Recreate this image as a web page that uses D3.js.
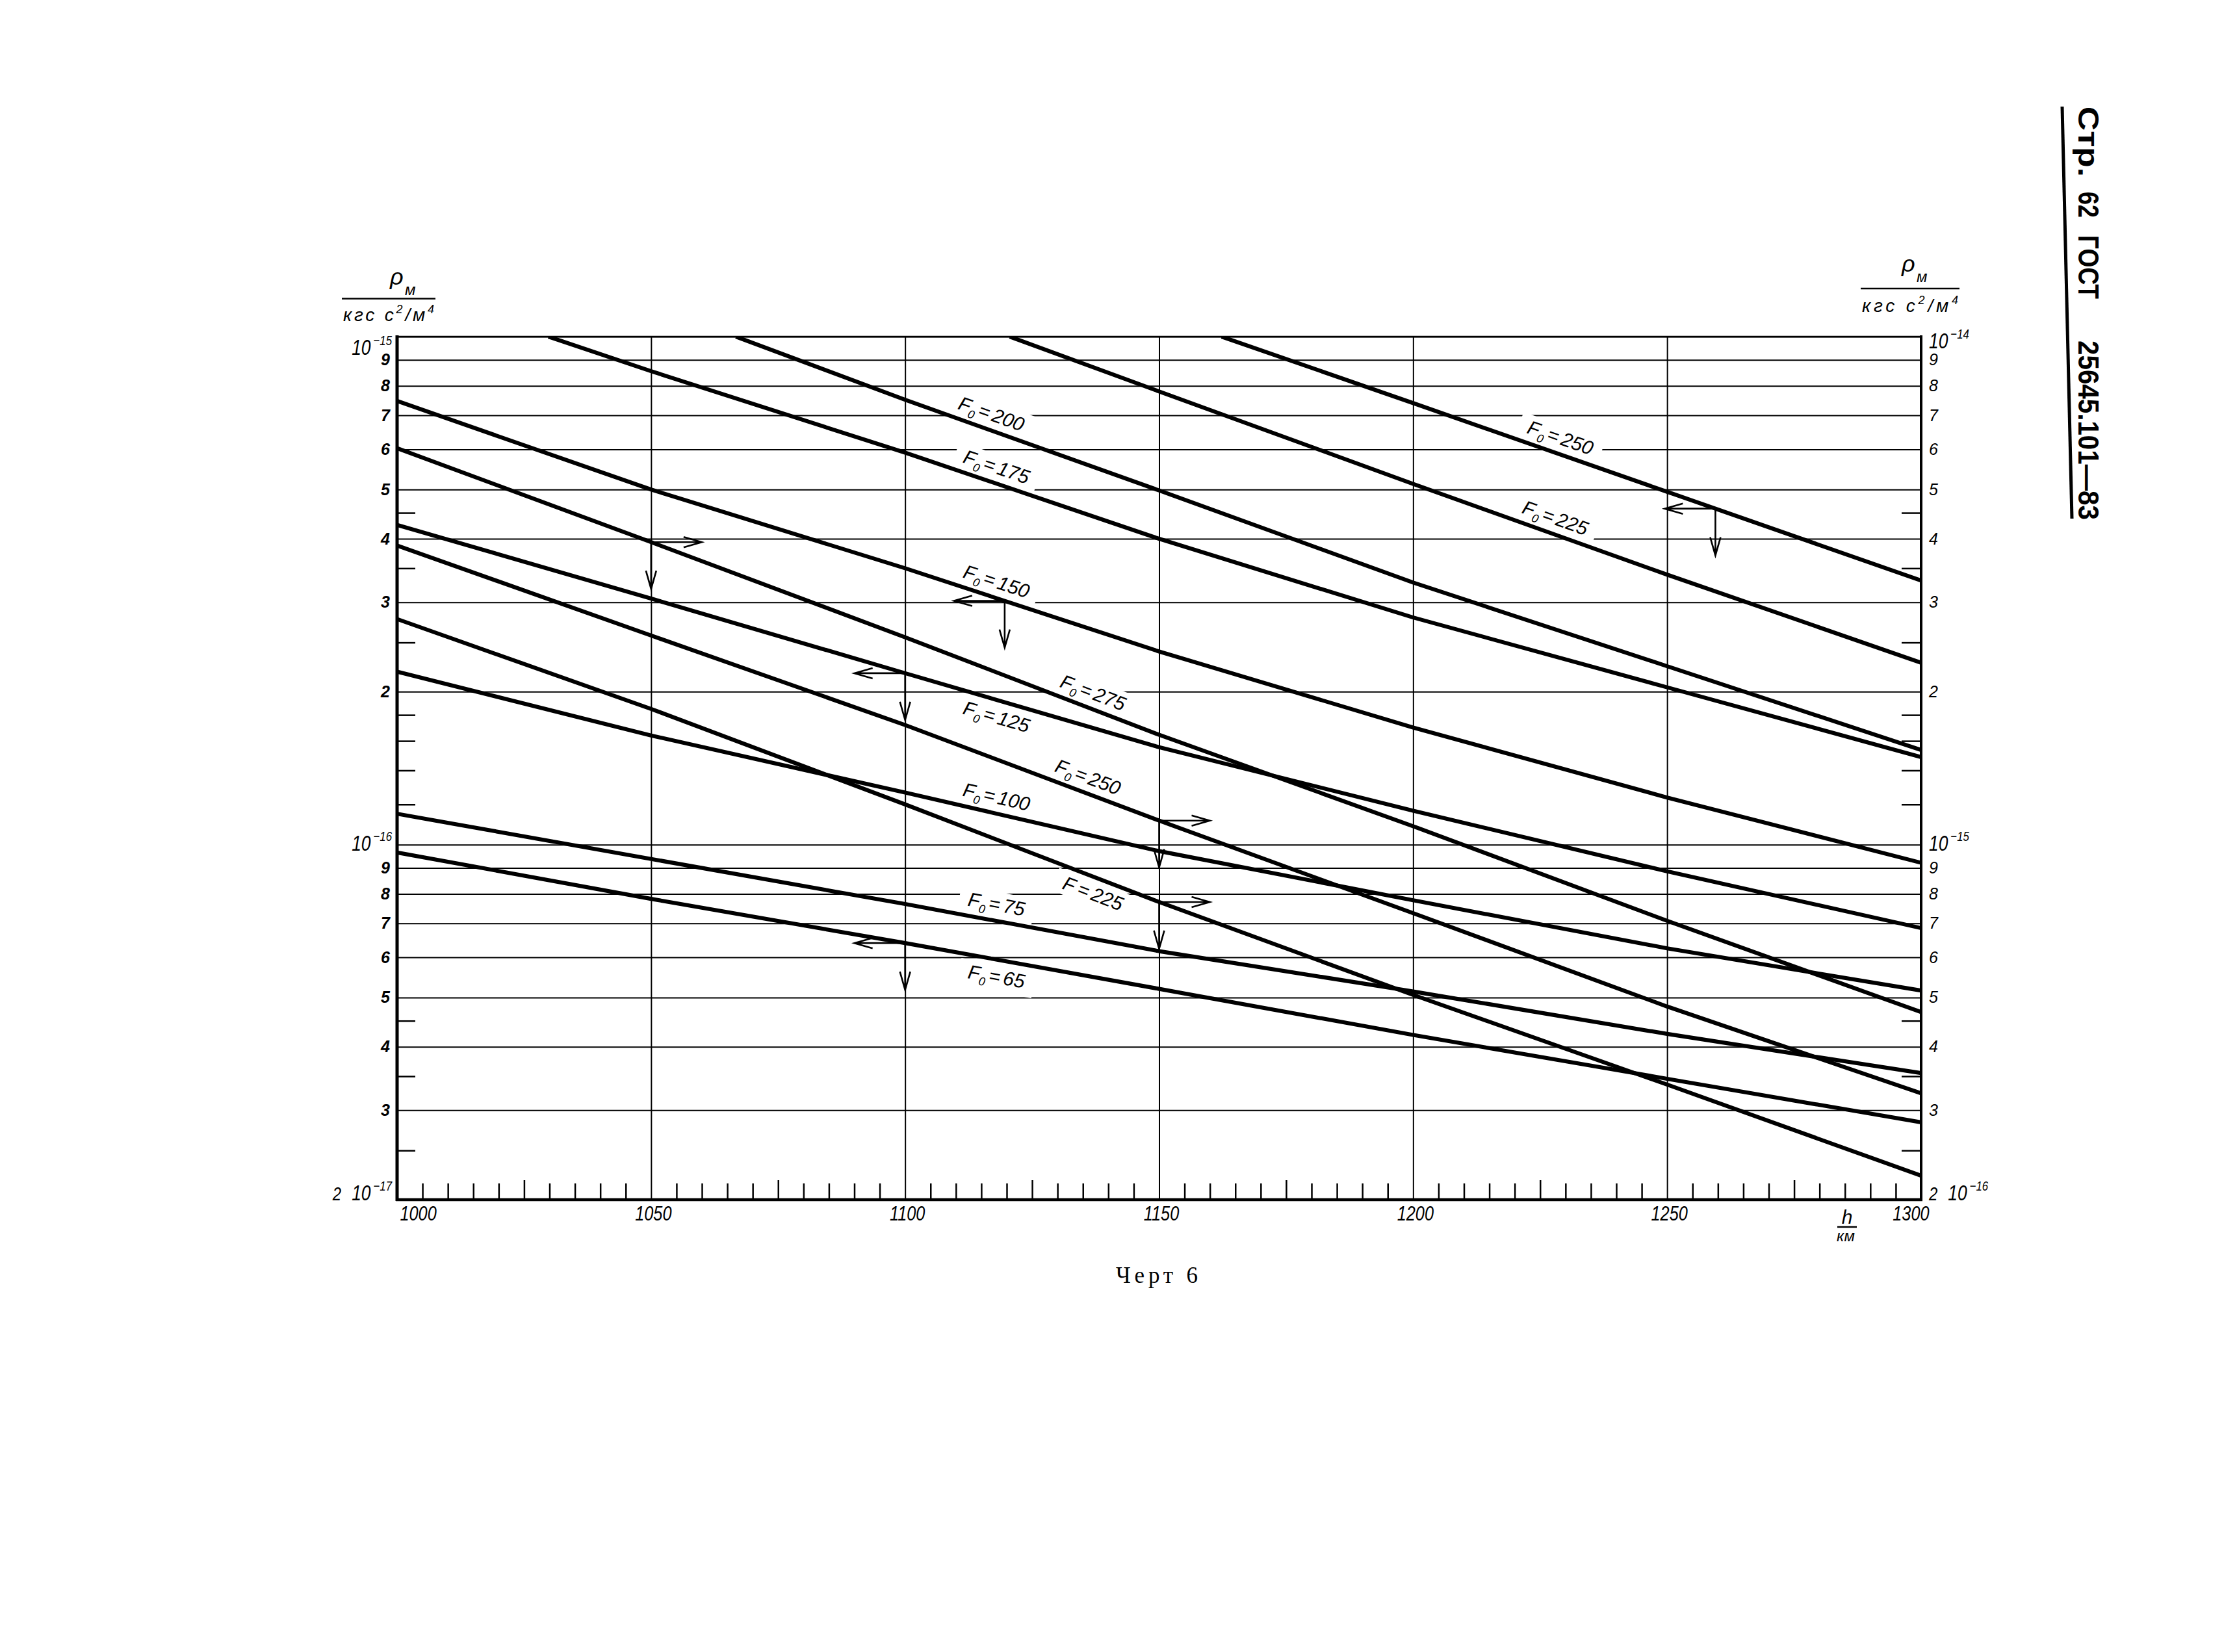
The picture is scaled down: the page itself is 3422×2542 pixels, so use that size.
<!DOCTYPE html>
<html><head><meta charset="utf-8">
<script src="https://cdn.jsdelivr.net/npm/d3@7"></script>
<style>
html,body{margin:0;padding:0;background:#fff;}
svg{display:block;}
svg text{fill:#000;}
</style></head><body>
<svg id="chart" width="3422" height="2542" font-family="Liberation Sans, Arial, sans-serif"></svg>
<script>
// ---------------- DATA ----------------
// altitude h, km  /  density rho_M, kgf s^2/m^4
// curves read on the LEFT axis (1e-17 ... 1e-15)
const rhoF250L = [[1162.3,1.0e-15],[1200,7.40e-16],[1250,4.95e-16],[1300,3.31e-16]];
const rhoF225L = [[1120.6,1.0e-15],[1150,7.80e-16],[1200,5.13e-16],[1250,3.40e-16],[1300,2.28e-16]];
const rhoF200  = [[1066.7,1.0e-15],[1100,7.51e-16],[1150,4.98e-16],[1200,3.28e-16],[1250,2.245e-16],[1300,1.536e-16]];
const rhoF175  = [[1029.8,1.0e-15],[1050,8.55e-16],[1100,5.91e-16],[1150,4.00e-16],[1200,2.80e-16],[1250,2.04e-16],[1300,1.487e-16]];
const rhoF150  = [[1000,7.47e-16],[1050,5.00e-16],[1100,3.50e-16],[1150,2.40e-16],[1200,1.70e-16],[1250,1.238e-16],[1300,9.21e-17]];
const rhoF125  = [[1000,4.26e-16],[1050,3.05e-16],[1100,2.175e-16],[1150,1.555e-16],[1200,1.166e-16],[1250,8.86e-17],[1300,6.85e-17]];
const rhoF100  = [[1000,2.19e-16],[1050,1.64e-16],[1100,1.266e-16],[1150,9.71e-17],[1200,7.77e-17],[1250,6.25e-17],[1300,5.16e-17]];
const rhoF75   = [[1000,1.15e-16],[1050,9.37e-17],[1100,7.64e-17],[1150,6.17e-17],[1200,5.14e-17],[1250,4.24e-17],[1300,3.55e-17]];
const rhoF65   = [[1000,9.65e-17],[1050,7.82e-17],[1100,6.40e-17],[1150,5.20e-17],[1200,4.22e-17],[1250,3.46e-17],[1300,2.84e-17]];
// curves read on the RIGHT axis (1e-16 ... 1e-14)
const rhoF275R = [[1000,6.03e-15],[1050,3.94e-15],[1100,2.56e-15],[1150,1.645e-15],[1200,1.087e-15],[1250,7.08e-16],[1300,4.68e-16]];
const rhoF250R = [[1000,3.88e-15],[1050,2.58e-15],[1100,1.72e-15],[1150,1.115e-15],[1200,7.33e-16],[1250,4.80e-16],[1300,3.24e-16]];
const rhoF225R = [[1000,2.78e-15],[1050,1.85e-15],[1100,1.20e-15],[1150,7.71e-16],[1200,5.06e-16],[1250,3.37e-16],[1300,2.23e-16]];

const seriesList = [
  {key:"F250L", axis:"L", data:rhoF250L},
  {key:"F225L", axis:"L", data:rhoF225L},
  {key:"F200",  axis:"L", data:rhoF200},
  {key:"F175",  axis:"L", data:rhoF175},
  {key:"F150",  axis:"L", data:rhoF150},
  {key:"F125",  axis:"L", data:rhoF125},
  {key:"F100",  axis:"L", data:rhoF100},
  {key:"F75",   axis:"L", data:rhoF75},
  {key:"F65",   axis:"L", data:rhoF65},
  {key:"F275R", axis:"R", data:rhoF275R},
  {key:"F250R", axis:"R", data:rhoF250R},
  {key:"F225R", axis:"R", data:rhoF225R}
];

// curve labels: F sub, value, where along the curve (h), side (-1 above, +1 below)
const curveLabels = [
  {series:"F200",  f:"F", sub:"0", val:"200", h:1117, side:-1},
  {series:"F175",  f:"F", sub:"0", val:"175", h:1118, side:-1},
  {series:"F150",  f:"F", sub:"0", val:"150", h:1118, side:-1},
  {series:"F275R", f:"F", sub:"0", val:"275", h:1137, side:-1},
  {series:"F125",  f:"F", sub:"0", val:"125", h:1118, side:1},
  {series:"F250R", f:"F", sub:"0", val:"250", h:1136, side:-1},
  {series:"F100",  f:"F", sub:"0", val:"100", h:1118, side:-1},
  {series:"F225R", f:"F", sub:"",  val:"225", h:1137, side:1},
  {series:"F75",   f:"F", sub:"0", val:"75",  h:1118, side:-1},
  {series:"F65",   f:"F", sub:"0", val:"65",  h:1118, side:1},
  {series:"F250L", f:"F", sub:"0", val:"250", h:1229, side:-1},
  {series:"F225L", f:"F", sub:"0", val:"225", h:1228, side:-1}
];
// reading arrows: dir -1 -> left axis, +1 -> right axis
const readArrows = [
  {series:"F275R", h:1050,   dir:1},
  {series:"F125",  h:1100,   dir:-1},
  {series:"F150",  h:1119.6, dir:-1},
  {series:"F250L", h:1259.5, dir:-1},
  {series:"F250R", h:1150,   dir:1},
  {series:"F225R", h:1150,   dir:1},
  {series:"F65",   h:1100,   dir:-1}
];

// axes / ticks
const xTickValues = [1000,1050,1100,1150,1200,1250,1300];
const xTickLabels = ["1000","1050","1100","1150","1200","1250","1300"];
const xGridValues = [1050,1100,1150,1200,1250];
const gridLeft = [1e-15,9e-16,8e-16,7e-16,6e-16,5e-16,4e-16,3e-16,2e-16,1e-16,9e-17,8e-17,7e-17,6e-17,5e-17,4e-17,3e-17];
const minorLeft = [4.5e-16,3.5e-16,2.5e-16,1.8e-16,1.6e-16,1.4e-16,1.2e-16,4.5e-17,3.5e-17,2.5e-17];
const minorRight = [4.5e-15,3.5e-15,2.5e-15,1.8e-15,1.6e-15,1.4e-15,1.2e-15,4.5e-16,3.5e-16,2.5e-16];
const leftDigitTicks = [9e-16,8e-16,7e-16,6e-16,5e-16,4e-16,3e-16,2e-16,9e-17,8e-17,7e-17,6e-17,5e-17,4e-17,3e-17];
const leftDigitLabels = ["9","8","7","6","5","4","3","2","9","8","7","6","5","4","3"];
const rightDigitTicks = [9e-15,8e-15,7e-15,6e-15,5e-15,4e-15,3e-15,2e-15,9e-16,8e-16,7e-16,6e-16,5e-16,4e-16,3e-16];
const rightDigitLabels = ["9","8","7","6","5","4","3","2","9","8","7","6","5","4","3"];
const leftPowerTicks = [1e-15,1e-16,2e-17];
const leftPowerLabels = [["","10","−15"],["","10","−16"],["2","10","−17"]];
const rightPowerTicks = [1e-14,1e-15,2e-16];
const rightPowerLabels = [["","10","−14"],["","10","−15"],["2","10","−16"]];

// ---------------- DRAWING ----------------
const svg = d3.select("#chart");
svg.append("rect").attr("width",3422).attr("height",2542).attr("fill","#fff");

const X0=611, X1=2956, Y0=518, Y1=1846;
const x  = d3.scaleLinear().domain([1000,1300]).range([X0,X1]);
const yL = d3.scaleLog().domain([2e-17,1e-15]).range([Y1,Y0]);
const yR = d3.scaleLog().domain([2e-16,1e-14]).range([Y1,Y0]);
const scaleOf = s => s.axis==="L" ? yL : yR;
const byKey = {}; seriesList.forEach(s=>byKey[s.key]=s);

function valueAt(s,h){
  const d=s.data;
  for(let i=0;i<d.length-1;i++){
    if(h>=d[i][0] && h<=d[i+1][0]){
      const t=(h-d[i][0])/(d[i+1][0]-d[i][0]);
      return Math.pow(10, Math.log10(d[i][1])*(1-t)+Math.log10(d[i+1][1])*t);
    }
  }
  return d[d.length-1][1];
}
function pointAt(s,h){ return [x(h), scaleOf(s)(valueAt(s,h))]; }

function clean(g){ g.select(".domain").remove(); g.attr("font-family",null).attr("font-size",null); return g; }

// horizontal grid
const gH = svg.append("g").attr("transform",`translate(${X0},0)`)
  .call(d3.axisLeft(yL).tickValues(gridLeft).tickSize(-(X1-X0)).tickFormat(""));
clean(gH); gH.selectAll("line").attr("stroke","#000").attr("stroke-width",2);
// vertical grid
const gV = svg.append("g").attr("transform",`translate(0,${Y1})`)
  .call(d3.axisBottom(x).tickValues(xGridValues).tickSize(-(Y1-Y0)).tickFormat(""));
clean(gV); gV.selectAll("line").attr("stroke","#000").attr("stroke-width",2);
// bottom minor ticks
const gXm = svg.append("g").attr("transform",`translate(0,${Y1})`)
  .call(d3.axisBottom(x).tickValues(d3.range(1005,1300,5).filter(h=>h%50!==0)).tickSizeInner(-25).tickSizeOuter(0).tickFormat(""));
clean(gXm); gXm.selectAll("line").attr("stroke","#000").attr("stroke-width",2.5)
  .attr("y2",d=> d%25===0 ? -30 : -25);
// left / right minor ticks
const gLm = svg.append("g").attr("transform",`translate(${X0},0)`)
  .call(d3.axisLeft(yL).tickValues(minorLeft).tickSizeInner(-28).tickSizeOuter(0).tickFormat(""));
clean(gLm); gLm.selectAll("line").attr("stroke","#000").attr("stroke-width",2.5);
const gRm = svg.append("g").attr("transform",`translate(${X1},0)`)
  .call(d3.axisRight(yR).tickValues(minorRight).tickSizeInner(-30).tickSizeOuter(0).tickFormat(""));
clean(gRm); gRm.selectAll("line").attr("stroke","#000").attr("stroke-width",2.5);

// curve labels (with white background that interrupts grid lines)
const gLab = svg.append("g");
curveLabels.forEach(lb=>{
  const s=byKey[lb.series];
  const p=pointAt(s,lb.h), pa=pointAt(s,lb.h-5), pb=pointAt(s,lb.h+5);
  const ang=Math.atan2(pb[1]-pa[1], pb[0]-pa[0])*180/Math.PI;
  const g=gLab.append("g").attr("transform",`translate(${p[0]},${p[1]+lb.side*26}) rotate(${ang})`);
  const t=g.append("text").attr("text-anchor","middle").attr("y",10.5)
    .attr("font-size",30).attr("font-style","italic");
  t.append("tspan").text(lb.f);
  if(lb.sub){ t.append("tspan").attr("font-size",18).attr("dy",7).text(lb.sub);
              t.append("tspan").attr("dy",-7).attr("dx",4).text("=");}
  else { t.append("tspan").attr("dx",6).text("="); }
  t.append("tspan").attr("dx",5).text(lb.val);
  const bb=t.node().getBBox();
  g.insert("rect","text").attr("x",bb.x-14).attr("y",bb.y-2).attr("width",bb.width+28).attr("height",bb.height+4).attr("fill","#fff");
});

// curves
svg.append("clipPath").attr("id","plotclip").append("rect")
  .attr("x",X0).attr("y",Y0).attr("width",X1-X0).attr("height",Y1-Y0);
const gC = svg.append("g").attr("clip-path","url(#plotclip)");
seriesList.forEach(s=>{
  const ys=scaleOf(s);
  gC.append("path").datum(s.data)
    .attr("d", d3.line().x(d=>x(d[0])).y(d=>ys(d[1])))
    .attr("fill","none").attr("stroke","#000").attr("stroke-width",6.2)
    .attr("stroke-linejoin","round").attr("stroke-linecap","butt");
});

// reading arrows
const gA = svg.append("g").attr("fill","none").attr("stroke","#000").attr("stroke-width",2.6);
readArrows.forEach(a=>{
  const s=byKey[a.series]; const [px,py]=pointAt(s,a.h);
  const L=78, V=72, hl=28, hw=8, ex=px+a.dir*L;
  gA.append("path").attr("d",
    `M${px},${py}H${ex}M${ex-a.dir*hl},${py-hw}L${ex},${py}L${ex-a.dir*hl},${py+hw}`+
    `M${px},${py}V${py+V}M${px-hw},${py+V-hl}L${px},${py+V}L${px+hw},${py+V-hl}`);
});

// frame
svg.append("line").attr("x1",X0).attr("x2",X1).attr("y1",Y0).attr("y2",Y0).attr("stroke","#000").attr("stroke-width",2.5);
svg.append("line").attr("x1",X0).attr("x2",X0).attr("y1",Y0-2).attr("y2",Y1+2).attr("stroke","#000").attr("stroke-width",5);
svg.append("line").attr("x1",X1).attr("x2",X1).attr("y1",Y0-2).attr("y2",Y1+2).attr("stroke","#000").attr("stroke-width",4);
svg.append("line").attr("x1",X0-2).attr("x2",X1+2).attr("y1",Y1).attr("y2",Y1).attr("stroke","#000").attr("stroke-width",4.5);

// digit tick labels
const gLd = svg.append("g").attr("transform",`translate(${X0},0)`)
  .call(d3.axisLeft(yL).tickValues(leftDigitTicks).tickSize(0).tickPadding(11).tickFormat((d,i)=>leftDigitLabels[i]));
clean(gLd);
gLd.selectAll("text").attr("font-size",25).attr("font-style","italic").attr("font-weight","bold").attr("fill","#000");
const gRd = svg.append("g").attr("transform",`translate(${X1},0)`)
  .call(d3.axisRight(yR).tickValues(rightDigitTicks).tickSize(0).tickPadding(12).tickFormat((d,i)=>rightDigitLabels[i]));
clean(gRd);
gRd.selectAll("text").attr("font-size",25).attr("font-style","italic").attr("fill","#000");

// power labels
function powerLabels(ticks, labels, scale, xpos, anchor, topDy){
  ticks.forEach((v,i)=>{
    const dy = i===0 ? topDy : (i===ticks.length-1 ? 1 : 9.5);
    const parts=labels[i];
    const t=svg.append("text").attr("transform",`translate(${xpos},${scale(v)+dy}) scale(0.8,1)`)
      .attr("text-anchor",anchor).attr("font-style","italic");
    if(parts[0]) t.append("tspan").attr("font-size",30).text(parts[0]);
    t.append("tspan").attr("font-size",33).attr("dx",parts[0]?20:0).text(parts[1]);
    t.append("tspan").attr("font-size",21).attr("dx",5).attr("dy",-15).text(parts[2]);
  });
}
powerLabels(leftPowerTicks,leftPowerLabels,yL,603,"end",28);
powerLabels(rightPowerTicks,rightPowerLabels,yR,2968,"start",18);

// x tick labels
const gXl = svg.append("g").attr("transform",`translate(0,${Y1})`)
  .call(d3.axisBottom(x).tickValues(xTickValues).tickSize(0).tickPadding(9.5).tickFormat((d,i)=>xTickLabels[i]));
clean(gXl);
gXl.selectAll("text").attr("font-size",32).attr("font-style","italic").attr("fill","#000")
  .attr("text-anchor",(d,i)=> i===0 ? "start" : (i===xTickValues.length-1 ? "end" : "middle"))
  .attr("x",(d,i)=> i===0 ? 4/0.79 : (i===xTickValues.length-1 ? 12/0.79 : 3/0.79))
  .attr("transform","scale(0.79,1)");

// h / km
svg.append("text").attr("x",2842).attr("y",1883).attr("text-anchor","middle").attr("font-size",30).attr("font-style","italic").text("h");
svg.append("line").attr("x1",2827).attr("x2",2857).attr("y1",1888).attr("y2",1888).attr("stroke","#000").attr("stroke-width",2.5);
svg.append("text").attr("x",2840).attr("y",1910).attr("text-anchor","middle").attr("font-size",24).attr("font-style","italic").text("км");

// axis titles
function axisTitle(rhoX, rhoY, barY, barX1, barX2, denY){
  svg.append("text").attr("x",rhoX).attr("y",rhoY).attr("font-size",36).attr("font-style","italic").text("ρ");
  svg.append("text").attr("x",rhoX+23).attr("y",rhoY+16).attr("font-size",24).attr("font-style","italic").text("м");
  svg.append("line").attr("x1",barX1).attr("x2",barX2).attr("y1",barY).attr("y2",barY).attr("stroke","#000").attr("stroke-width",2.5);
  const t=svg.append("text").attr("x",barX1+2).attr("y",denY).attr("font-size",28).attr("font-style","italic")
    .attr("textLength",barX2-barX1-4).attr("lengthAdjust","spacing");
  t.append("tspan").text("кгс с");
  t.append("tspan").attr("font-size",18).attr("dy",-12).text("2");
  t.append("tspan").attr("dy",12).text("/м");
  t.append("tspan").attr("font-size",18).attr("dy",-12).text("4");
}
axisTitle(600, 438, 459.5, 526, 670, 494);
axisTitle(2926, 418, 444, 2863, 3015, 480);

// caption
svg.append("text").attr("x",1717).attr("y",1974).attr("font-family","Liberation Serif, Times New Roman, serif").attr("font-size",35)
  .attr("textLength",126).attr("lengthAdjust","spacing").text("Черт 6");

// page header (vertical)
svg.append("line").attr("x1",3173).attr("y1",164).attr("x2",3188).attr("y2",798).attr("stroke","#000").attr("stroke-width",5);
const headerWords = [["Стр.",164,108],["62",295,40],["ГОСТ",362,98],["25645.101—83",524,276]];
headerWords.forEach(w=>{
  svg.append("text").attr("transform",`translate(3198,${w[1]}) rotate(90)`)
    .attr("font-size",44).attr("font-weight","bold")
    .attr("textLength",w[2]).attr("lengthAdjust","spacingAndGlyphs").text(w[0]);
});
</script>
</body></html>
